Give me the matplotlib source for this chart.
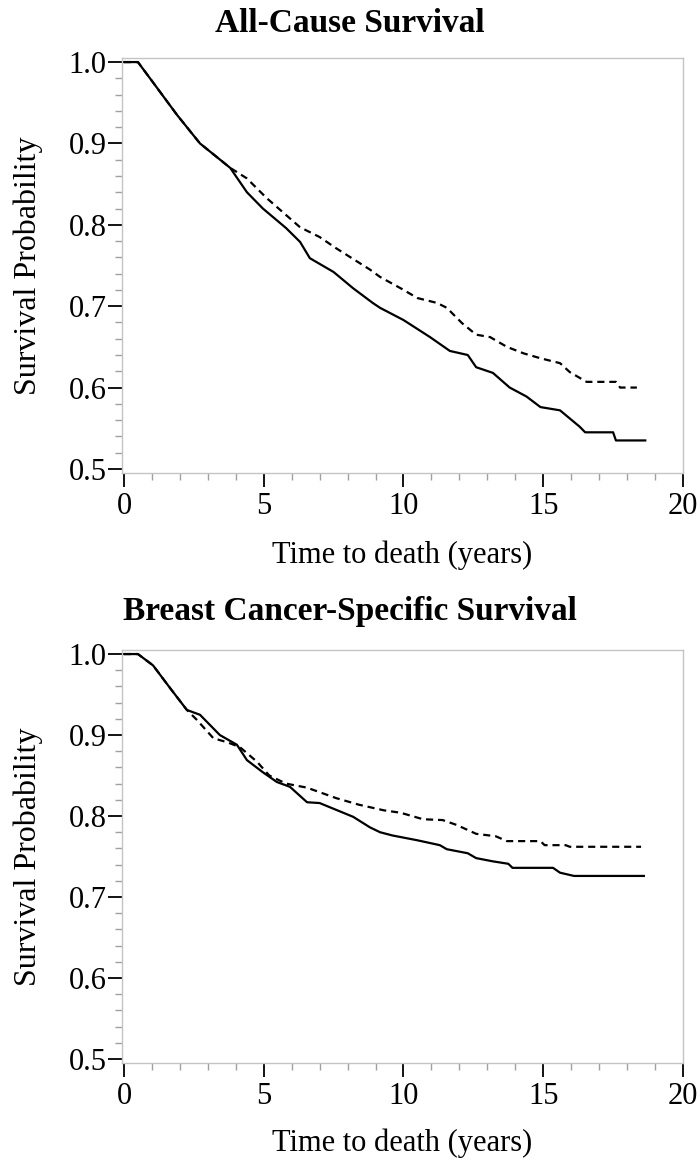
""" Kaplan-Meier style survival curves: all-cause and breast cancer-specific. """
import matplotlib.pyplot as plt
from matplotlib.ticker import MultipleLocator

plt.rcParams['font.family'] = ['Liberation Serif', 'DejaVu Serif']

# All-cause survival, solid group
ac_solid_t = [0, 0.5, 1.04, 1.9, 2.72, 3.8, 4.4, 4.97, 5.8, 6.3, 6.65, 7.5, 8.2, 8.9,
              9.16, 10.0, 10.95, 11.66, 12.3, 12.6, 13.2, 13.8, 14.4, 14.9, 15.6,
              16.3, 16.5, 17.5, 17.6, 18.65]
ac_solid_s = [1.0, 1.0, 0.975, 0.935, 0.90, 0.87, 0.84, 0.82, 0.796, 0.779, 0.759, 0.742,
              0.722, 0.704, 0.698, 0.683, 0.662, 0.645, 0.640, 0.625, 0.618, 0.600, 0.589,
              0.576, 0.572, 0.552, 0.545, 0.545, 0.535, 0.535]

# All-cause survival, dashed group
ac_dash_t = [0, 0.5, 1.04, 1.9, 2.72, 3.8, 4.4, 5.1, 6.3, 7.0, 7.6, 8.8, 9.16, 9.9, 10.5,
             11.2, 11.55, 12.1, 12.6, 13.1, 13.7, 14.3, 14.9, 15.6, 15.95, 16.55, 17.6,
             17.75, 18.35]
ac_dash_s = [1.0, 1.0, 0.975, 0.935, 0.90, 0.87, 0.857, 0.833, 0.797, 0.785, 0.771, 0.745,
             0.736, 0.722, 0.710, 0.704, 0.698, 0.679, 0.665, 0.662, 0.650, 0.642, 0.636,
             0.630, 0.619, 0.607, 0.607, 0.600, 0.600]

# Breast cancer-specific survival, solid group
bc_solid_t = [0, 0.5, 1.04, 1.65, 2.25, 2.72, 3.43, 4.04, 4.4, 4.97, 5.47, 5.94, 6.55, 7.0,
              8.2, 8.8, 9.16, 9.6, 10.5, 11.3, 11.55, 12.3, 12.6, 13.2, 13.75, 13.9, 15.35,
              15.6, 16.1, 18.6]
bc_solid_s = [1.0, 1.0, 0.986, 0.958, 0.931, 0.925, 0.90, 0.888, 0.869, 0.854, 0.842, 0.836,
              0.817, 0.816, 0.799, 0.786, 0.780, 0.776, 0.770, 0.764, 0.759, 0.754, 0.748,
              0.744, 0.741, 0.736, 0.736, 0.730, 0.726, 0.726]

# Breast cancer-specific survival, dashed group
bc_dash_t = [0, 0.5, 1.04, 1.65, 2.25, 2.6, 3.2, 3.7, 4.15, 4.76, 5.2, 5.8, 6.55, 7.6, 8.4,
             9.3, 9.9, 10.7, 11.4, 11.9, 12.6, 13.3, 13.7, 14.9, 15.05, 15.8, 15.95, 18.5]
bc_dash_s = [1.0, 1.0, 0.986, 0.958, 0.931, 0.919, 0.896, 0.891, 0.885, 0.867, 0.850, 0.840,
             0.835, 0.822, 0.814, 0.807, 0.804, 0.796, 0.795, 0.789, 0.778, 0.775, 0.769,
             0.769, 0.764, 0.764, 0.762, 0.762]

titles = ['All-Cause Survival', 'Breast Cancer-Specific Survival']
panels = [(ac_solid_t, ac_solid_s, ac_dash_t, ac_dash_s),
          (bc_solid_t, bc_solid_s, bc_dash_t, bc_dash_s)]

W, H = 700, 1163
fig = plt.figure(figsize=(W / 100, H / 100), dpi=100)

# pixel boxes: (left, top, right, bottom), title centre y, xlabel top y
boxes = [(122, 58, 683, 473, 23, 540), (122, 650, 683, 1063, 611, 1129)]
spine_col = '#c4c4c4'

for (l, t, r, b, ty, xly), title, (st, ss, dt, ds) in zip(boxes, titles, panels):
    ax = fig.add_axes([l / W, 1 - b / H, (r - l) / W, (b - t) / H])
    ax.plot(st, ss, color='black', lw=1.6)
    ax.plot(dt, ds, color='black', lw=1.6, dashes=(3.2, 2.2))

    ax.set_xlim(-0.07, 20)
    ax.set_ylim(0.495, 1.005)
    ax.xaxis.set_major_locator(MultipleLocator(5))
    ax.xaxis.set_minor_locator(MultipleLocator(1))
    ax.yaxis.set_major_locator(MultipleLocator(0.1))
    ax.yaxis.set_minor_locator(MultipleLocator(0.02))
    ax.yaxis.set_major_formatter(lambda v, p: f'{v:.1f}')

    ax.tick_params(which='major', length=10, width=1.3, color='black', labelsize=22)
    ax.tick_params(which='minor', length=5, width=1.0, color='#a0a0a0')
    ax.tick_params(axis='x', which='major', pad=4)
    ax.tick_params(axis='y', which='major', pad=1)
    for sp in ax.spines.values():
        sp.set_color(spine_col)
        sp.set_linewidth(1.0)

    ax.set_xlabel('Time to death (years)', fontsize=22)
    ax.xaxis.set_label_coords(0.5, (b - xly) / (b - t))
    ax.set_ylabel('Survival Probability', fontsize=23, va='center')
    ax.yaxis.set_label_coords((28 - l) / (r - l), 0.5)

    fig.text(0.5, 1 - ty / H, title, ha='center', va='center',
             fontsize=24, fontweight='bold')

fig.savefig('out.png', dpi=100)
